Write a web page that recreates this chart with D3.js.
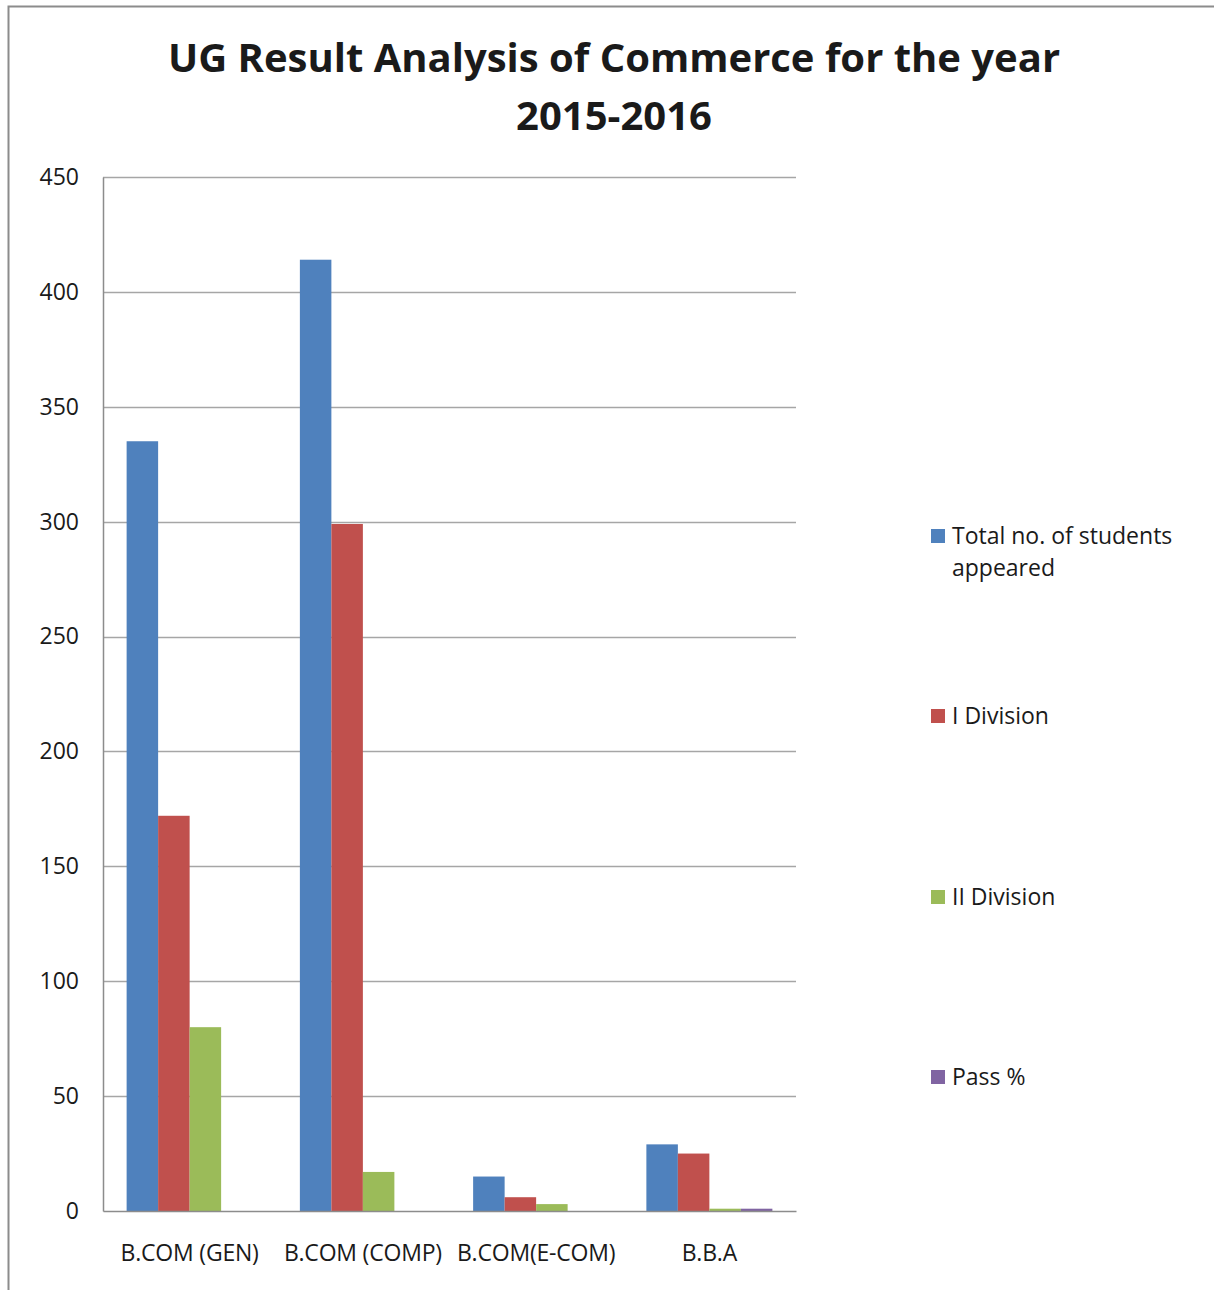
<!DOCTYPE html>
<html>
<head>
<meta charset="utf-8">
<script src="https://cdn.jsdelivr.net/npm/d3@7"></script>
<style>
  body { margin: 0; background: #fff; }
  text { font-family: "Open Sans", sans-serif; fill: #1a1a1a; }
</style>
</head>
<body>
<div id="chart"></div>
<script>
const categories = ['B.COM (GEN)', 'B.COM (COMP)', 'B.COM(E-COM)', 'B.B.A'];
const seriesNames = ['Total no. of students appeared', 'I Division', 'II Division', 'Pass %'];
const totalAppeared = [335, 414, 15, 29];
const firstDivision = [172, 299, 6, 25];
const secondDivision = [80, 17, 3, 1];
const passPercent = [0, 0, 0, 1];
const yTicks = [0, 50, 100, 150, 200, 250, 300, 350, 400, 450];
const colors = ['#4f81bd', '#c0504d', '#9bbb59', '#8064a2'];

const W = 1214, H = 1292;
const margin = { left: 103, right: 796, top: 177, bottom: 1211 };
const labelFont = '"Open Sans", sans-serif';
const labelSize = 23;

const svg = d3.select('#chart').append('svg')
  .attr('width', W)
  .attr('height', H);

// outer chart frame
svg.append('path')
  .attr('d', `M8.5,1290 V6.5 H${W}`)
  .attr('fill', 'none')
  .attr('stroke', '#8c8c8c')
  .attr('stroke-width', 2);

// title
const title = svg.append('text')
  .attr('text-anchor', 'middle')
  .attr('font-size', 40)
  .attr('font-weight', 'bold');
title.append('tspan').attr('x', 614).attr('y', 72).text('UG Result Analysis of Commerce for the year');
title.append('tspan').attr('x', 614).attr('y', 130).text('2015-2016');

const x = d3.scaleBand()
  .domain(categories)
  .range([margin.left, margin.right])
  .paddingInner(0)
  .paddingOuter(0);

const y = d3.scaleLinear()
  .domain([0, 450])
  .range([margin.bottom, margin.top]);

// gridlines
svg.append('g')
  .selectAll('line')
  .data(yTicks.filter(d => d > 0))
  .join('line')
  .attr('x1', margin.left)
  .attr('x2', margin.right)
  .attr('y1', d => Math.round(y(d)) + 0.5)
  .attr('y2', d => Math.round(y(d)) + 0.5)
  .attr('stroke', '#a6a6a6')
  .attr('stroke-width', 1.3);

// bars
const series = [totalAppeared, firstDivision, secondDivision, passPercent];
const groupW = x.bandwidth() / (4 + 1.5);
const inner = d3.scaleBand()
  .domain(d3.range(4))
  .range([0, groupW * 4]);

series.forEach((vals, si) => {
  svg.append('g')
    .selectAll('rect')
    .data(vals.map((v, i) => ({ v, cat: categories[i] })))
    .join('rect')
    .attr('x', d => x(d.cat) + groupW * 0.75 + inner(si))
    .attr('width', inner.bandwidth())
    .attr('y', d => y(d.v))
    .attr('height', d => y(0) - y(d.v))
    .attr('fill', colors[si]);
});

// y axis
const yAxis = svg.append('g')
  .attr('transform', `translate(${margin.left},0)`)
  .call(d3.axisLeft(y).tickValues(yTicks).tickSize(0).tickPadding(24));
yAxis.select('.domain').attr('stroke', '#8c8c8c').attr('stroke-width', 1.5);
yAxis.selectAll('text').attr('font-size', labelSize).attr('fill', '#1a1a1a').attr('font-family', labelFont);

// x axis
const xAxis = svg.append('g')
  .attr('transform', `translate(0,${margin.bottom})`)
  .call(d3.axisBottom(x).tickSize(0).tickPadding(34));
xAxis.select('.domain').attr('stroke', '#8c8c8c').attr('stroke-width', 1.5);
xAxis.selectAll('text').attr('font-size', labelSize).attr('fill', '#1a1a1a').attr('font-family', labelFont)
  .attr('letter-spacing', -0.2);

// legend
const legendY = [536, 716, 897, 1077];
const legend = svg.append('g');
seriesNames.forEach((name, i) => {
  legend.append('rect')
    .attr('x', 931)
    .attr('y', legendY[i] - 7)
    .attr('width', 14)
    .attr('height', 14)
    .attr('fill', colors[i]);
  const t = legend.append('text')
    .attr('font-size', labelSize)
    .attr('x', 952)
    .attr('y', legendY[i] + 8);
  if (i === 0) {
    t.append('tspan').attr('x', 952).text('Total no. of students');
    t.append('tspan').attr('x', 952).attr('dy', 32).text('appeared');
  } else {
    t.text(name);
  }
});
</script>
</body>
</html>
